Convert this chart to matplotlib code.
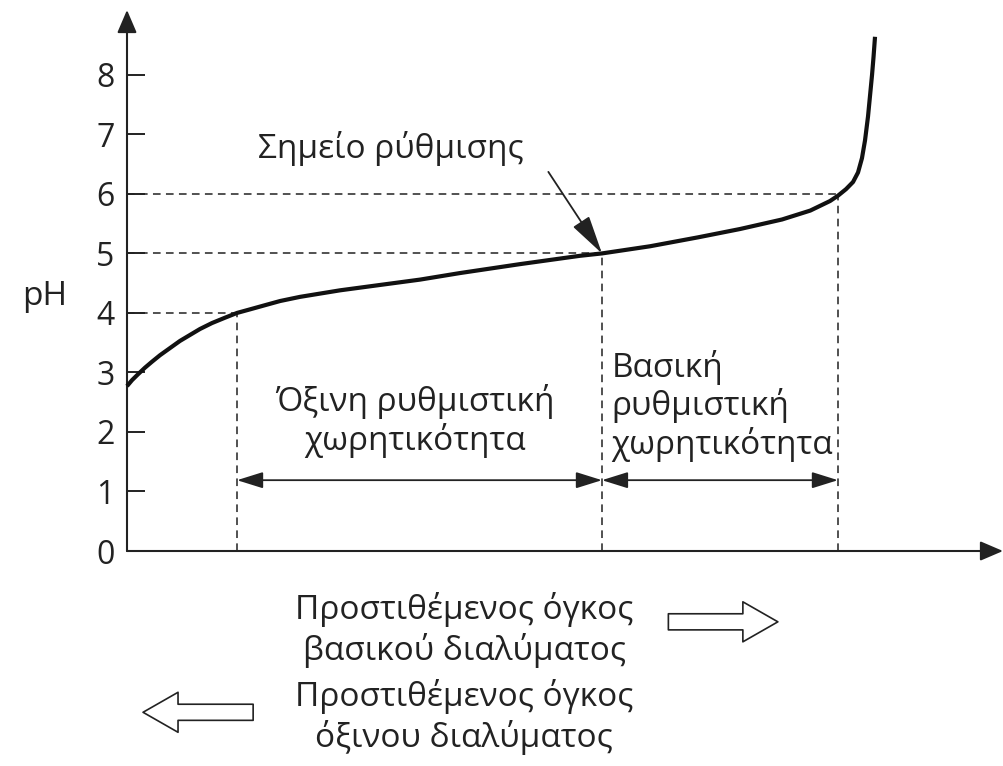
import matplotlib
matplotlib.use("Agg")
import matplotlib.pyplot as plt

# titration curve (volume in arbitrary units, pH)
volume = [0.0, 0.57, 1.26, 2.05, 2.85, 3.77, 4.91, 6.05, 7.19, 8.33, 9.70,
          11.19, 12.56, 14.04, 15.75, 17.47, 19.75, 24.32, 28.88, 33.45, 38.01,
          44.86, 51.71, 54.22, 59.70, 65.18, 69.98, 74.77, 78.00, 80.25, 81.16,
          82.08, 82.88, 83.45, 83.90, 84.25, 84.59, 84.82, 85.05, 85.22, 85.39]
ph = [2.77, 2.87, 2.97, 3.08, 3.18, 3.29, 3.41, 3.53, 3.63, 3.73, 3.83,
      3.92, 4.00, 4.06, 4.13, 4.20, 4.27, 4.38, 4.47, 4.56, 4.67,
      4.82, 4.96, 5.00, 5.12, 5.27, 5.41, 5.57, 5.72, 5.88, 5.97,
      6.08, 6.20, 6.36, 6.60, 6.90, 7.30, 7.65, 8.00, 8.30, 8.64]

# marked points: pH 4, 5 (buffer point), 6
mark_volume = [12.56, 54.22, 81.16]
mark_ph = [4, 5, 6]
ph_ticks = [0, 1, 2, 3, 4, 5, 6, 7, 8]

acid_label = "Όξινη ρυθμιστική\nχωρητικότητα"
base_label = "Βασική\nρυθμιστική\nχωρητικότητα"
point_label = "Σημείο ρύθμισης"
base_added = "Προστιθέμενος όγκος\nβασικού διαλύματος"
acid_added = "Προστιθέμενος όγκος\nόξινου διαλύματος"

plt.rcParams['font.family'] = ['Open Sans', 'DejaVu Sans']
fs = 24
ink = '#222222'

fig = plt.figure(figsize=(10.04, 7.66), dpi=100)
ax = fig.add_axes([127 / 1004, 215 / 766, 876 / 1004, 541 / 766])
ax.set_xlim(0, 100)
ax.set_ylim(0, 9.09)
for s in ax.spines.values():
    s.set_visible(False)

# axes with arrow heads
axis_arrow = dict(arrowstyle='-|>,head_length=0.7,head_width=0.3', color=ink,
                  lw=1.5, shrinkA=0, shrinkB=0, mutation_scale=20)
ax.annotate('', xy=(100, 0), xytext=(0, 0), arrowprops=axis_arrow, annotation_clip=False)
ax.annotate('', xy=(0, 9.09), xytext=(0, 0), arrowprops=axis_arrow, annotation_clip=False)

ax.set_xticks([])
ax.set_yticks(ph_ticks)
ax.tick_params(axis='y', direction='in', length=13, width=1.4, color=ink,
               labelsize=23, pad=9, labelcolor=ink)
ax.text(-9.4, 4.27, 'pH', fontsize=fs, ha='center', va='center', color=ink)

# dashed guides
for v, p in zip(mark_volume, mark_ph):
    ax.plot([0, v], [p, p], color=ink, lw=1.1, ls=(0, (5, 3.5)))
    ax.plot([v, v], [0, p], color=ink, lw=1.1, ls=(0, (5, 3.5)))

ax.plot(volume, ph, color='#111111', lw=3.0, solid_capstyle='butt',
        solid_joinstyle='round', zorder=5, clip_on=False)

# capacity ranges
range_arrow = dict(arrowstyle='<|-|>,head_length=0.8,head_width=0.25', color=ink,
                   lw=1.3, shrinkA=0, shrinkB=0, mutation_scale=20)
ax.annotate('', xy=(mark_volume[0], 1.19), xytext=(mark_volume[1], 1.19), arrowprops=range_arrow)
ax.annotate('', xy=(mark_volume[1], 1.19), xytext=(mark_volume[2], 1.19), arrowprops=range_arrow)

ax.text(32.9, 2.18, acid_label, fontsize=fs, ha='center', va='center',
        linespacing=1.14, color=ink)
ax.text(55.3, 2.44, base_label, fontsize=fs, ha='left', va='center',
        linespacing=1.14, color=ink)

# buffer point label and pointer
ax.text(14.9, 6.77, point_label, fontsize=fs, ha='left', va='center', color=ink)
ax.annotate('', xy=(mark_volume[1], mark_ph[1]), xytext=(48.1, 6.37),
            arrowprops=dict(arrowstyle='-|>,head_length=1.2,head_width=0.3', color=ink,
                            lw=1.3, shrinkA=0, shrinkB=0, mutation_scale=20))

# added volume captions with hollow arrows
ax.text(38.5, -1.33, base_added, fontsize=fs, ha='center', va='center',
        linespacing=1.2, color=ink, clip_on=False)
ax.text(38.5, -2.79, acid_added, fontsize=fs, ha='center', va='center',
        linespacing=1.2, color=ink, clip_on=False)

hollow = dict(arrowstyle='simple,head_length=1.26,head_width=1.44,tail_width=0.58',
              fc='white', ec=ink, lw=1.2, shrinkA=0, shrinkB=0, mutation_scale=20)
ax.annotate('', xy=(74.3, -1.19), xytext=(61.8, -1.19), arrowprops=hollow, annotation_clip=False)
ax.annotate('', xy=(1.83, -2.71), xytext=(14.4, -2.71), arrowprops=hollow, annotation_clip=False)

fig.savefig('out.png', dpi=100)
